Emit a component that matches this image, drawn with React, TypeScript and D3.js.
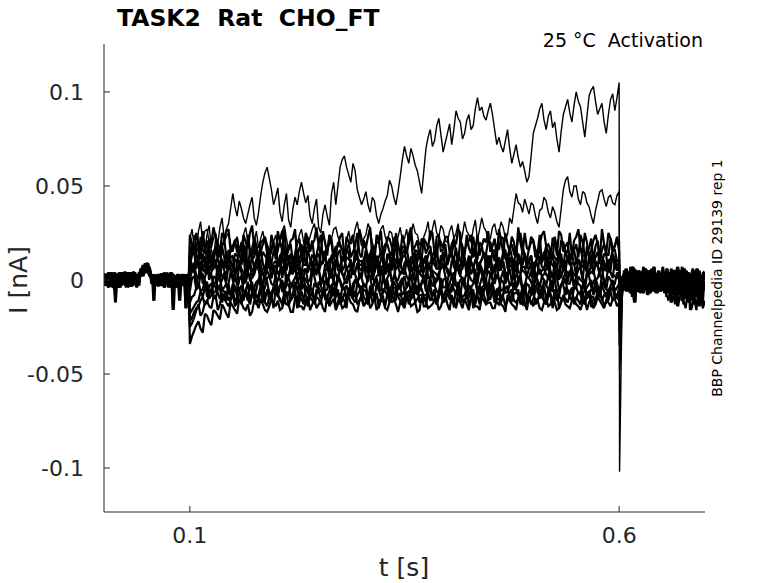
import * as d3 from 'd3';

// recordings in pA; each segment is stored as two interleaved sample sets
// (second set sits half a step after the first)
const PRE_DT = 0.0025; // 0 .. 0.1 s
const MAIN_T0 = 0.1; // voltage step, 0.1 .. 0.6 s
const TAIL_T = [0.6005, 0.602, 0.6035];
const POST_T0 = 0.605;
const POST_DT = 0.0025; // 0.605 .. 0.7 s

const pre1 = [2, -3, 1, 4, -1, -12, 2, -2, 3, 0, -4, 1, 3, -2, 2, -1, 4, 6, 3, 8, 5, 2, -1, 3, 0, -2, 2, -3, 1, 4, -1, 2, -3, 0, 3, -2, 1, -1, 2, -4];
const pre1b = [-2, 3, -1, 2, -4, 1, 3, -2, 0, 4, -1, 2, -3, 1, 3, -1, 2, 5, 7, 4, 6, 3, 1, -2, 2, 0, -3, 3, -1, 1, -2, 4, 0, -3, 2, -1, 3, 0, -2, 2];
const pre2 = [-1, 2, -4, 0, 3, -2, 1, 4, -3, 2, -1, 3, -2, 0, 4, 1, -3, 5, 7, 4, 9, 6, -2, -11, 2, -1, 3, 0, -3, 2, 1, -2, -16, 1, 3, -1, 2, -2, 0, 3];
const pre2b = [3, -1, 1, -3, 2, 4, -2, 0, 3, -1, 2, -4, 1, 3, -2, 0, 2, 4, 8, 6, 5, 7, 2, 0, -1, 3, -2, 1, 4, -1, 0, -3, 2, 1, -2, 3, -1, 2, -3, 0];
const pre3 = [3, -1, 0, -3, 2, 1, -4, 3, 0, -2, 4, -1, 1, -3, 2, 0, 3, 2, 6, 4, 5, 3, 1, -2, 2, -3, 1, 3, -1, 0, -2, 4, 1, -3, 2, 0, -1, 3, -15, 1];
const pre3b = [0, 2, -3, 1, 4, -1, 2, -2, 3, 0, -3, 2, 4, -1, 1, -2, 3, 6, 5, 9, 4, 2, 3, -1, 1, -2, 3, 0, -1, 2, -4, 1, 3, -2, 0, 2, -1, -3, 1, 2];
const pre4 = [-2, 1, 3, -2, 0, 2, -1, -3, 4, 1, -2, 2, 0, 3, -1, -4, 1, 4, 2, 5, 7, 3, 2, 0, -3, 1, -1, 2, 3, -2, 1, -3, 2, -1, 0, 2, -2, 1, 3, -12];
const pre4b = [1, -3, 2, 0, -2, 3, 1, -4, 2, 3, -1, 0, 2, -3, 1, 3, -1, 4, 5, 6, 8, 5, 0, 2, -1, -3, 2, 1, -2, 0, 3, -1, 1, -4, 2, 0, 3, -2, 1, -1];
const pre5 = [1, -2, 4, -1, 2, -3, 0, 3, -2, 1, 4, -1, -3, 2, 0, -2, 3, 5, 4, 7, 6, 4, 0, 2, -1, 3, -2, 1, -4, 0, 2, -1, 3, -3, 1, -2, 0, 2, -1, 1];
const pre5b = [-1, 1, 3, -2, 0, -4, 2, 1, -1, 3, 0, -2, 2, -1, 4, -3, 1, 3, 6, 4, 7, 5, 2, 1, -2, 0, 2, -3, 1, 3, -2, 0, -1, 2, -3, 1, -2, 3, 0, -3];
const pre6 = [-3, 0, 2, -1, -4, 1, 3, -2, 2, 0, -3, 2, -1, 4, 1, -2, 0, 3, 6, 5, 8, 4, 3, -1, 1, -2, 2, -1, 0, 3, -3, 1, -2, 2, -4, -11, 0, 2, -2, -1];
const pre6b = [2, -2, 0, 3, -1, 2, -3, 1, 3, -2, 1, 4, -3, 0, 2, -1, 1, 5, 4, 6, 9, 3, 1, -1, 2, -3, 0, 3, -2, 1, 2, -4, 0, 1, -1, 2, -3, 0, 2, -2];

// the two strongly activating sweeps, 2.5 ms grid
const mainTop = [
  22, 27, 18, 14, 26, 31, 20, 16, 24, 29, 17, 22, 25, 19, 28, 33, 22, 27, 30, 38,
  46, 39, 34, 42, 38, 33, 30, 35, 40, 44, 33, 29, 36, 45, 52, 57, 60, 54, 48, 40,
  44, 49, 36, 31, 40, 46, 32, 28, 38, 44, 40, 47, 52, 46, 41, 45, 34, 30, 38, 43,
  28, 25, 35, 40, 34, 29, 46, 52, 40, 50, 60, 64, 66, 60, 56, 52, 62, 58, 48, 44,
  40, 43, 47, 40, 36, 44, 42, 34, 30, 35, 38, 42, 45, 53, 50, 44, 40, 47, 55, 64,
  71, 66, 62, 70, 66, 61, 58, 52, 46, 58, 70, 76, 80, 71, 74, 82, 86, 77, 68, 73,
  78, 83, 72, 80, 90, 86, 84, 75, 78, 85, 88, 80, 82, 91, 97, 90, 92, 87, 85, 90,
  94, 88, 80, 72, 76, 71, 68, 74, 80, 70, 62, 67, 72, 65, 60, 63, 58, 52, 55, 66,
  78, 82, 86, 91, 94, 85, 80, 87, 90, 81, 84, 75, 68, 79, 88, 92, 96, 89, 84, 93,
  100, 95, 92, 84, 76, 87, 98, 101, 103, 95, 88, 91, 94, 84, 78, 88, 96, 99, 90, 97,
  105,
];
const mainSecond = [
  18, 13, 24, 19, 14, 20, 21, 26, 27, 20, 16, 11, 22, 17, 12, 18, 20, 23, 25, 19,
  15, 20, 23, 17, 18, 24, 28, 21, 13, 18, 21, 26, 17, 22, 26, 20, 19, 16, 14, 20,
  24, 17, 20, 26, 29, 22, 16, 21, 22, 25, 18, 24, 27, 20, 15, 19, 23, 27, 30, 24,
  19, 23, 25, 19, 17, 24, 22, 27, 28, 23, 20, 16, 14, 21, 26, 19, 21, 27, 31, 24,
  18, 22, 24, 30, 27, 20, 16, 22, 23, 27, 29, 23, 20, 26, 25, 19, 17, 23, 28, 21,
  22, 27, 19, 24, 30, 25, 24, 19, 18, 23, 26, 31, 21, 27, 32, 25, 23, 29, 27, 21,
  20, 26, 29, 22, 25, 30, 18, 24, 31, 26, 24, 20, 27, 32, 21, 27, 33, 28, 26, 21,
  22, 28, 30, 24, 25, 31, 28, 22, 24, 33, 30, 38, 46, 41, 40, 36, 43, 39, 35, 41,
  40, 34, 30, 37, 38, 44, 42, 36, 33, 39, 36, 31, 28, 38, 48, 53, 55, 47, 44, 50,
  50, 43, 40, 47, 46, 41, 39, 34, 30, 37, 42, 47, 48, 43, 39, 44, 45, 41, 40, 45,
  47,
];

// remaining sweeps, 5 ms grid + half-step set
const mainC1 = [
  24, 14, 20, 26, 12, 19, 23, 15, 21, 27, 16, 22, 13, 20, 25, 17, 11, 21, 18, 24,
  14, 20, 27, 16, 22, 12, 19, 25, 15, 21, 18, 26, 13, 20, 16, 23, 11, 19, 24, 14,
  22, 17, 28, 15, 20, 12, 23, 18, 25, 13, 19, 24, 16, 21, 11, 20, 26, 14, 22, 17,
  23, 13, 19, 25, 16, 21, 12, 24, 18, 20, 15, 22, 27, 14, 19, 23, 12, 20, 25, 16,
  21, 14, 24, 18, 11, 22, 26, 15, 20, 13, 23, 17, 25, 12, 21, 19, 27, 14, 22, 18,
  20,
];
const mainC1b = [
  19, 25, 11, 17, 22, 28, 13, 18, 26, 15, 21, 12, 24, 17, 29, 14, 20, 23, 11, 19,
  26, 16, 13, 21, 27, 17, 12, 22, 19, 28, 14, 20, 24, 11, 18, 25, 15, 21, 13, 27,
  18, 23, 12, 20, 26, 16, 22, 11, 19, 24, 14, 28, 18, 13, 22, 17, 25, 12, 20, 23,
  15, 21, 27, 11, 19, 24, 16, 13, 22, 26, 18, 12, 21, 25, 15, 20, 28, 14, 17, 23,
  12, 19, 26, 15, 22, 13, 24, 18, 11, 21, 27, 14, 20, 16, 24, 12, 19, 25, 15, 22,
];
const mainC2 = [
  8, 15, 11, 5, 14, 9, 17, 7, 12, 16, 6, 13, 10, 18, 8, 12, 5, 15, 11, 9,
  16, 7, 13, 10, 4, 14, 11, 17, 8, 12, 6, 15, 9, 13, 18, 7, 11, 14, 5, 12,
  10, 16, 8, 13, 6, 15, 11, 9, 17, 7, 13, 10, 5, 14, 12, 8, 16, 11, 6, 15,
  9, 13, 17, 7, 12, 10, 15, 5, 11, 14, 8, 16, 10, 13, 6, 12, 17, 9, 14, 11,
  5, 13, 10, 16, 8, 12, 15, 7, 11, 14, 9, 17, 6, 12, 10, 15, 8, 13, 11, 16,
  10,
];
const mainC2b = [
  13, 6, 17, 9, 4, 15, 11, 18, 6, 10, 14, 8, 16, 5, 12, 19, 9, 13, 7, 15,
  10, 17, 5, 14, 11, 8, 18, 6, 13, 9, 16, 11, 4, 14, 8, 12, 17, 7, 15, 10,
  6, 13, 18, 9, 11, 5, 14, 16, 8, 12, 17, 7, 11, 15, 4, 13, 9, 18, 10, 6,
  14, 11, 8, 16, 5, 12, 19, 9, 13, 7, 15, 10, 5, 14, 18, 8, 11, 16, 6, 13,
  9, 17, 12, 5, 14, 10, 7, 16, 13, 8, 15, 11, 18, 6, 12, 9, 14, 4, 16, 10,
];
const mainC3 = [
  10, 4, 8, 12, 3, 7, 11, 2, 9, 6, 13, 5, 8, 1, 10, 7, 12, 4, 9, 6,
  3, 11, 7, 13, 5, 8, 2, 10, 6, 12, 4, 9, 7, 1, 11, 6, 10, 3, 8, 13,
  5, 7, 12, 4, 9, 2, 8, 11, 6, 10, 3, 9, 13, 5, 7, 11, 1, 8, 6, 12,
  4, 10, 7, 2, 9, 13, 6, 8, 3, 11, 7, 5, 12, 9, 2, 8, 10, 4, 13, 6,
  9, 3, 7, 11, 5, 10, 1, 8, 12, 6, 4, 9, 7, 13, 3, 8, 10, 5, 11, 7,
  8,
];
const mainC3b = [
  5, 11, 2, 9, 13, 6, 1, 10, 7, 12, 3, 9, 14, 6, 4, 11, 8, 2, 13, 5,
  9, 1, 12, 6, 10, 3, 13, 7, 4, 11, 8, 13, 2, 9, 5, 12, 7, 1, 10, 6,
  11, 3, 8, 13, 5, 9, 2, 12, 7, 4, 10, 6, 14, 3, 9, 1, 11, 6, 13, 8,
  2, 12, 5, 10, 7, 3, 11, 9, 1, 13, 5, 10, 8, 2, 12, 6, 4, 11, 7, 9,
  3, 13, 6, 10, 1, 8, 12, 5, 9, 2, 11, 7, 4, 12, 8, 3, 10, 6, 13, 5,
];
const mainC4 = [
  0, 6, 2, -2, 7, 3, -1, 5, 1, 8, 2, -3, 4, 6, 0, 3, 7, -2, 5, 1,
  -1, 4, 8, 2, 5, -2, 3, 6, 0, 4, 7, 1, -3, 5, 3, 8, 0, 2, 6, -1,
  4, 2, 7, -2, 3, 5, 1, 8, -1, 4, 6, 0, 3, 7, 2, -3, 5, 1, 4, 8,
  -1, 3, 6, 2, 0, 5, 7, -2, 4, 1, 3, 8, 0, 5, 2, -1, 6, 3, 7, 1,
  -2, 4, 2, 6, 0, 5, 3, 8, -1, 4, 2, 6, -3, 3, 5, 1, 7, 0, 4, 2,
  3,
];
const mainC4b = [
  5, -2, 7, 1, 4, -3, 8, 2, -1, 6, 3, 9, -2, 5, 1, 7, -3, 4, 2, 8,
  0, 6, -2, 4, 9, 1, 5, -1, 7, 3, -3, 6, 2, 8, 0, 4, -2, 7, 3, 1,
  8, -1, 5, 2, 6, -3, 4, 9, 0, 5, 2, 7, -2, 4, 1, 8, 3, -1, 6, 2,
  5, -3, 7, 1, 4, 9, 0, 6, -2, 5, 3, 8, 1, -2, 6, 4, 0, 7, 2, 5,
  -1, 6, 3, 8, -2, 4, 1, 7, 5, -3, 6, 2, 4, 9, 0, 5, -2, 7, 3, 1,
];
const mainC5 = [
  -6, 2, -4, 3, -1, -5, 1, -3, 4, -2, 0, -6, 2, -1, 3, -4, 0, -7, 1, -2,
  3, -3, -5, 1, -1, 4, -4, 0, -6, 2, -2, 1, -5, 3, -3, 0, -1, 4, -6, -2,
  1, -4, 2, -1, -6, 3, 0, -3, 1, -5, 2, -2, -4, 4, -1, -6, 1, -3, 3, 0,
  -5, 2, -2, 0, -4, 3, -1, -6, 1, -3, 4, -2, 0, -5, 2, -1, -4, 3, -3, 1,
  -6, 0, 2, -3, -1, 4, -5, 1, -2, 3, -4, 0, -6, 2, -1, -3, 3, -5, 0, -2,
  1,
];
const mainC5b = [
  1, -5, 3, -2, -7, 2, -4, 0, -3, 4, -6, 1, -2, 3, -5, -1, 4, -4, 2, -3,
  -6, 0, 3, -3, 1, -5, 2, -2, 4, -4, 0, -6, 2, -1, 3, -4, 1, -7, 0, 3,
  -3, 2, -5, 1, 4, -2, -6, 2, -3, 0, -4, 3, -1, -6, 2, -3, 4, 0, -5, 1,
  -2, 4, -4, 1, -6, 0, 3, -3, 2, -5, 0, 3, -6, 1, -3, 4, -2, -5, 2, -1,
  3, -4, 0, 2, -6, 1, -3, 4, -2, -5, 2, -1, 3, -4, 1, -6, 0, 2, -3, 4,
];
const mainC6 = [
  -18, -14, -11, -9, -3, -8, -4, -10, -6, -2, -7, -9, -3, -6, -11, -4, -8, -1, -5, -10,
  -6, -3, -9, -7, -2, -11, -5, -8, -4, -10, -1, -6, -9, -3, -7, -12, -4, -8, -5, -2,
  -9, -6, -3, -10, -5, -7, -1, -8, -11, -4, -6, -9, -2, -7, -5, -11, -3, -8, -6, -10,
  -4, -2, -8, -6, -12, -3, -7, -5, -9, -1, -6, -10, -4, -7, -3, -9, -5, -11, -2, -6,
  -8, -4, -7, -10, -1, -6, -9, -3, -5, -11, -4, -7, -2, -8, -6, -10, -3, -9, -5, -7,
  -4,
];
const mainC6b = [
  -16, -12, -6, -4, -10, -2, -7, -5, -11, -8, -3, -5, -10, -1, -7, -9, -3, -11, -6, -4,
  -9, -1, -7, -4, -10, -6, -2, -12, -5, -8, -3, -10, -6, -1, -8, -4, -11, -6, -9, -3,
  -5, -12, -7, -2, -9, -4, -10, -6, -3, -8, -11, -5, -7, -2, -9, -4, -8, -12, -3, -6,
  -9, -5, -1, -10, -7, -4, -11, -3, -6, -8, -2, -7, -10, -5, -9, -1, -8, -6, -12, -4,
  -5, -10, -3, -7, -6, -11, -2, -8, -9, -4, -7, -3, -10, -5, -1, -8, -6, -11, -4, -9,
];
const mainC7 = [
  -25, -20, -13, -17, -11, -15, -8, -13, -10, -14, -7, -12, -9, -5, -13, -8, -11, -6, -14, -9,
  -4, -10, -12, -7, -9, -15, -6, -11, -8, -13, -10, -5, -12, -9, -14, -7, -11, -4, -10, -13,
  -8, -12, -6, -10, -15, -9, -7, -12, -5, -11, -9, -13, -6, -10, -8, -14, -11, -5, -9, -12,
  -7, -10, -13, -6, -11, -9, -15, -8, -4, -12, -10, -7, -13, -9, -11, -5, -12, -8, -14, -10,
  -6, -11, -9, -13, -7, -10, -15, -8, -12, -5, -9, -13, -11, -7, -14, -8, -10, -12, -6, -9,
  -11,
];
const mainC7b = [
  -23, -16, -19, -12, -14, -9, -16, -7, -12, -11, -14, -6, -11, -10, -8, -13, -5, -12, -9, -15,
  -8, -13, -7, -11, -5, -12, -10, -14, -6, -9, -13, -8, -11, -4, -12, -10, -15, -8, -6, -11,
  -13, -9, -12, -7, -10, -14, -5, -11, -9, -13, -6, -10, -12, -8, -14, -7, -9, -13, -5, -11,
  -10, -14, -7, -12, -9, -5, -11, -13, -8, -10, -6, -12, -9, -14, -7, -11, -10, -4, -12, -8,
  -13, -7, -11, -9, -15, -6, -12, -10, -8, -13, -11, -6, -9, -14, -10, -7, -13, -5, -11, -9,
];
const mainC8 = [
  -34, -27, -22, -28, -19, -24, -17, -21, -15, -20, -14, -18, -12, -16, -19, -11, -15, -13, -17, -10,
  -14, -16, -11, -13, -17, -9, -14, -12, -16, -10, -13, -15, -8, -12, -16, -11, -14, -9, -13, -17,
  -10, -12, -15, -9, -14, -11, -16, -8, -13, -12, -15, -10, -13, -17, -9, -12, -14, -11, -16, -10,
  -13, -8, -15, -12, -10, -16, -11, -14, -9, -13, -12, -15, -10, -14, -8, -13, -16, -11, -12, -9,
  -14, -11, -16, -10, -13, -12, -15, -9, -14, -11, -13, -16, -10, -12, -15, -9, -13, -11, -14, -10,
  -12,
];
const mainC8b = [
  -30, -24, -26, -18, -22, -16, -19, -13, -18, -12, -16, -10, -15, -13, -17, -12, -10, -16, -14, -12,
  -11, -15, -13, -17, -10, -14, -16, -9, -13, -15, -11, -17, -14, -10, -13, -15, -8, -12, -16, -11,
  -14, -9, -13, -16, -11, -15, -12, -10, -17, -13, -9, -14, -12, -16, -10, -15, -13, -11, -14, -8,
  -16, -12, -10, -15, -13, -9, -14, -16, -11, -12, -15, -10, -13, -17, -11, -14, -9, -13, -16, -12,
  -10, -15, -12, -14, -9, -16, -11, -13, -15, -10, -14, -12, -16, -9, -13, -11, -15, -12, -10, -14,
];
const mainC9 = [
  13, 19, 9, 16, 21, 11, 17, 14, 22, 10, 18, 15, 20, 8, 16, 23, 12, 19, 14, 17,
  11, 21, 15, 18, 9, 20, 13, 24, 16, 12, 19, 10, 17, 22, 14, 18, 11, 20, 15, 25,
  12, 18, 14, 9, 21, 16, 19, 13, 23, 11, 17, 20, 10, 15, 22, 14, 18, 12, 24, 16,
  9, 19, 15, 21, 13, 17, 23, 11, 18, 14, 20, 10, 16, 22, 12, 19, 15, 25, 13, 17,
  21, 14, 9, 18, 16, 23, 11, 20, 15, 12, 19, 24, 13, 17, 10, 21, 16, 14, 22, 18,
  15,
];
const mainC9b = [
  18, 11, 23, 14, 17, 9, 20, 25, 12, 16, 21, 13, 19, 24, 10, 18, 15, 22, 11, 20,
  16, 26, 12, 19, 14, 22, 9, 17, 21, 13, 24, 15, 19, 11, 20, 16, 23, 12, 18, 14,
  21, 10, 17, 24, 13, 19, 15, 22, 9, 18, 14, 25, 16, 12, 20, 17, 11, 23, 15, 19,
  13, 22, 10, 18, 24, 14, 16, 20, 12, 21, 15, 19, 23, 11, 17, 14, 22, 18, 10, 20,
  16, 24, 13, 19, 11, 17, 21, 14, 25, 16, 12, 20, 15, 22, 18, 10, 19, 13, 17, 23,
];
const mainC10 = [
  3, 9, 1, 6, 10, 4, 7, -1, 5, 8, 2, 11, 6, 0, 7, 4, 9, 3, 6, 1,
  8, 5, 10, 2, 4, 7, -1, 6, 9, 3, 5, 0, 8, 4, 11, 6, 2, 7, 3, 9,
  1, 6, 10, 4, 2, 8, 5, -1, 7, 3, 9, 6, 1, 5, 10, 3, 7, 4, 0, 8,
  6, 2, 9, 5, 11, 3, 7, 1, 6, 4, 8, 0, 5, 10, 3, 7, 2, 9, 4, 6,
  1, 8, 5, 3, 10, 6, 0, 7, 4, 9, 2, 6, 11, 3, 5, 8, 1, 7, 4, 10,
  5,
];
const mainC10b = [
  7, 2, 10, 4, 0, 8, 5, 11, 3, 6, -1, 9, 4, 7, 2, 10, 5, 1, 8, 6,
  3, 11, 0, 7, 5, 9, 2, 4, 10, 6, 1, 8, 5, -1, 9, 3, 7, 11, 4, 2,
  8, 5, 0, 10, 6, 3, 9, 1, 7, 4, 11, 2, 6, 8, 0, 9, 5, 3, 10, 7,
  4, -1, 8, 6, 2, 10, 5, 9, 3, 7, 1, 11, 6, 4, 8, 0, 9, 5, 2, 7,
  10, 3, 6, 1, 8, 4, 11, 5, 2, 9, 6, 0, 7, 4, 10, 2, 8, 5, 1, 6,
];
const mainC11 = [
  -12, -8, -1, -5, -9, -2, -6, 1, -4, -7, -2, -5, 2, -6, -3, -8, 0, -4, -1, -7,
  -3, 1, -6, -2, -8, -4, 0, -5, -9, -2, -4, -7, 1, -3, -6, -1, -5, -8, -2, 0,
  -6, -3, -9, -1, -4, 2, -5, -7, -3, -1, -6, 0, -4, -8, -2, -5, 1, -3, -7, -4,
  -1, -6, -3, -9, 0, -5, -2, -7, -4, 1, -3, -8, -5, -1, -6, -2, -4, 0, -7, -3,
  -5, -1, -8, -3, -6, 1, -4, -2, -7, -5, 0, -3, -6, -2, -8, -4, -1, -5, -3, -6,
  -2,
];
const mainC11b = [
  -9, -4, -6, 0, -3, -7, 1, -5, -2, -8, -4, 0, -6, -9, -1, -5, -3, 2, -7, -4,
  0, -6, -3, -8, -1, -5, 2, -4, -7, -2, -6, -1, -4, -8, 1, -5, -3, -7, 0, -4,
  -2, -8, -5, 0, -6, -3, -9, -1, -5, 1, -4, -7, -2, -5, 0, -8, -3, -6, 1, -4,
  -7, -2, -5, 0, -8, -4, -1, -6, -3, -9, -1, -5, 0, -7, -3, -5, 1, -6, -2, -8,
  -4, -7, 0, -5, -2, -8, -3, 1, -6, -4, -2, -7, -4, 0, -5, -9, -3, -6, 0, -4,
];
const mainC12 = [
  -22, -17, -14, -9, -12, -6, -10, -4, -8, -11, -5, -9, -13, -7, -3, -10, -8, -12, -6, -9,
  -4, -11, -7, -14, -8, -5, -10, -3, -9, -12, -6, -8, -11, -4, -9, -13, -7, -5, -10, -8,
  -3, -11, -6, -9, -12, -5, -8, -10, -4, -7, -13, -6, -9, -3, -11, -8, -5, -10, -7, -12,
  -4, -9, -6, -11, -8, -14, -5, -7, -10, -3, -9, -12, -6, -8, -4, -11, -7, -13, -5, -9,
  -10, -6, -3, -12, -8, -5, -9, -11, -7, -4, -10, -8, -13, -6, -9, -4, -11, -7, -5, -10,
  -8,
];
const mainC12b = [
  -20, -15, -11, -13, -7, -9, -5, -12, -6, -9, -12, -4, -8, -11, -6, -13, -5, -9, -10, -4,
  -8, -12, -6, -10, -3, -9, -13, -7, -11, -5, -10, -7, -13, -8, -5, -11, -9, -4, -12, -6,
  -9, -13, -5, -8, -10, -6, -12, -4, -9, -11, -7, -10, -4, -12, -8, -6, -11, -13, -5, -9,
  -8, -12, -6, -9, -4, -10, -13, -7, -5, -11, -6, -9, -12, -4, -10, -7, -5, -11, -8, -13,
  -6, -9, -11, -5, -12, -7, -10, -4, -8, -12, -6, -11, -7, -9, -13, -5, -8, -10, -4, -9,
];
const mainC13 = [
  12, 6, 10, 14, 5, 11, 8, 15, 7, 12, 4, 10, 13, 8, 16, 6, 11, 9, 14, 5,
  10, 13, 7, 12, 3, 9, 15, 8, 11, 6, 14, 10, 5, 12, 9, 16, 7, 11, 4, 13,
  8, 15, 10, 6, 12, 9, 14, 5, 11, 8, 16, 7, 12, 10, 4, 13, 9, 15, 6, 11,
  8, 14, 5, 10, 12, 7, 16, 9, 11, 6, 13, 4, 10, 15, 8, 12, 6, 11, 14, 9,
  5, 13, 10, 7, 16, 8, 12, 4, 11, 14, 9, 6, 13, 10, 15, 7, 12, 8, 5, 11,
  9,
];
const mainC13b = [
  8, 14, 5, 11, 16, 7, 12, 9, 15, 4, 11, 8, 15, 6, 12, 10, 16, 4, 13, 9,
  7, 14, 10, 5, 13, 11, 8, 16, 6, 12, 9, 15, 11, 7, 14, 5, 12, 10, 16, 8,
  11, 6, 13, 9, 15, 4, 12, 10, 7, 14, 9, 12, 5, 15, 11, 8, 13, 6, 10, 16,
  12, 7, 14, 9, 5, 11, 13, 8, 15, 10, 6, 12, 9, 16, 11, 5, 14, 8, 10, 13,
  7, 11, 15, 9, 12, 6, 14, 10, 8, 16, 11, 13, 7, 12, 9, 15, 5, 11, 14, 8,
];

// tail currents right after the step back
const tailTop = [-102, -55, -12];
const tailSecond = [-48, -38, -10];
const tailC1 = [-35, -20, -6];
const tailC2 = [-22, -12, -3];
const tailC3 = [-15, -6, 0];
const tailC4 = [-12, -5, 2];
const tailC5 = [-10, -4, -2];
const tailC6 = [-8, -5, -3];
const tailC7 = [-6, -4, -2];
const tailC8 = [-5, -2, 0];
const tailC9 = [-28, -16, -5];
const tailC10 = [-9, -3, 1];
const tailC11 = [-7, -4, -1];
const tailC12 = [-5, -3, -2];
const tailC13 = [-18, -9, -2];

const post1 = [5, 1, 4, 7, 2, 6, 0, 4, 3, 7, 1, 5, 2, 6, 4, 0, 5, 3, 7, 2, 4, 1, 6, 3, 5, 0, 4, 7, 2, 5, 3, 1, 6, 4, 2, 5, 0, 4, 3];
const post1b = [2, 6, 0, 4, 7, 1, 3, 5, 0, 4, 6, 2, 5, 1, 7, 3, 4, 0, 5, 2, 6, 3, 1, 5, 2, 7, 0, 3, 6, 1, 4, 2, 5, 0, 6, 3, 1, 4];
const post2 = [-2, 2, -3, 1, -1, 3, -2, 0, 2, -4, 1, -1, 3, -3, 0, 2, -2, 1, -4, 2, 0, -3, 3, -1, 1, -2, 2, -4, 0, 1, -3, 2, -1, 0, 3, -2, 1, -3, 0];
const post2b = [1, -3, 0, 2, -2, 1, -4, 2, -1, 0, 3, -2, 1, -4, 2, 0, -1, 3, -2, 0, 2, -3, 1, -1, 3, -2, 0, -3, 2, -1, 1, -4, 0, 2, -2, 1, -1, 2];
const post3 = [-5, -1, -4, -7, -2, -12, -3, -6, -1, -5, -3, -8, -2, -4, -6, -1, -5, -3, -2, -7, -4, -1, -6, -3, -5, -2, -8, -4, -1, -5, -3, -6, -2, -4, -7, -3, -1, -5, -4];
const post3b = [-2, -6, -3, -1, -8, -4, -6, -2, -5, -7, -1, -4, -6, -3, -2, -7, -4, -5, -1, -3, -6, -2, -5, -8, -3, -4, -1, -6, -3, -5, -2, -7, -4, -1, -5, -3, -6, -2];
const post4 = [-4, -1, -6, -3, -9, -2, -5, -3, -7, -4, -1, -5, -3, -6, -2, -4, -7, -3, -5, -2, -8, -11, -6, -9, -13, -7, -10, -5, -12, -15, -9, -11, -14, -8, -16, -12, -10, -15, -11];
const post4b = [-2, -5, -4, -1, -6, -4, -2, -6, -3, -5, -2, -4, -7, -3, -5, -1, -4, -6, -2, -5, -9, -7, -12, -8, -10, -14, -8, -11, -13, -10, -12, -16, -11, -13, -9, -14, -12, -13];
const post5 = [3, -1, 2, 5, 0, 4, -2, 2, 1, 5, -1, 3, 0, 4, 2, -2, 3, 1, 5, 0, 2, -1, 4, 1, 3, -2, 2, 5, 0, 3, 1, -1, 4, 2, 0, 3, -2, 2, 1];
const post5b = [0, 4, 1, -1, 3, 2, 5, -1, 3, 0, 4, 1, 2, -1, 5, 0, 3, 2, -1, 4, 1, 3, 0, 5, -1, 2, 4, 1, -2, 3, 0, 2, 5, 1, -1, 4, 2, 0];
const post6 = [-4, 0, -3, 1, -5, -1, -3, 2, -2, -4, 0, -6, -1, -3, 1, -4, -2, 0, -5, -1, -3, 1, -2, -4, 0, -3, -1, -6, -2, 0, -4, -1, -3, 1, -2, -5, -1, -3, -2];
const post6b = [-1, -4, -2, -5, 0, -3, -1, -4, -6, -2, -3, 0, -4, -2, -5, -1, -3, -6, -2, 0, -4, -1, -3, -5, -2, -4, 0, -3, -5, -1, -2, -4, -6, -1, -3, 0, -4, -2];

type Sweep = { pre: number[][]; main: number[][]; dt: number; tail: number[]; post: number[][] };

const sweeps: Sweep[] = [
  { pre: [pre1, pre1b], main: [mainTop], dt: 0.0025, tail: tailTop, post: [post1, post1b] },
  { pre: [pre2, pre2b], main: [mainSecond], dt: 0.0025, tail: tailSecond, post: [post2, post2b] },
  { pre: [pre3, pre3b], main: [mainC1, mainC1b], dt: 0.005, tail: tailC1, post: [post3, post3b] },
  { pre: [pre4, pre4b], main: [mainC2, mainC2b], dt: 0.005, tail: tailC2, post: [post4, post4b] },
  { pre: [pre5, pre5b], main: [mainC3, mainC3b], dt: 0.005, tail: tailC3, post: [post5, post5b] },
  { pre: [pre6, pre6b], main: [mainC4, mainC4b], dt: 0.005, tail: tailC4, post: [post6, post6b] },
  { pre: [pre1b, pre2], main: [mainC5, mainC5b], dt: 0.005, tail: tailC5, post: [post2b, post1] },
  { pre: [pre2b, pre3], main: [mainC6, mainC6b], dt: 0.005, tail: tailC6, post: [post3b, post2] },
  { pre: [pre3b, pre4], main: [mainC7, mainC7b], dt: 0.005, tail: tailC7, post: [post6b, post3] },
  { pre: [pre4b, pre5], main: [mainC8, mainC8b], dt: 0.005, tail: tailC8, post: [post5b, post6] },
  { pre: [pre5b, pre6], main: [mainC9, mainC9b], dt: 0.005, tail: tailC9, post: [post1b, post5] },
  { pre: [pre6b, pre1], main: [mainC10, mainC10b], dt: 0.005, tail: tailC10, post: [post4b, post2] },
  { pre: [pre2, pre4b], main: [mainC11, mainC11b], dt: 0.005, tail: tailC11, post: [post2b, post3] },
  { pre: [pre3, pre6b], main: [mainC12, mainC12b], dt: 0.005, tail: tailC12, post: [post6, post3b] },
  { pre: [pre5, pre1b], main: [mainC13, mainC13b], dt: 0.005, tail: tailC13, post: [post5, post1b] },
];

const xTicks = [0.1, 0.6];
const yTicks = [0.1, 0.05, 0, -0.05, -0.1];

const W = 778;
const H = 583;
const plot = { left: 104, right: 705, top: 44, bottom: 512 };

// first set on t0 + i*dt, second set half a step later
function segment(sets: number[][], t0: number, dt: number): [number, number][] {
  const pts: [number, number][] = [];
  sets.forEach((vals, k) => vals.forEach((v, i) => pts.push([t0 + i * dt + (k * dt) / 2, v / 1000])));
  return pts.sort((a, b) => a[0] - b[0]);
}

function toPoints(s: Sweep): [number, number][] {
  return [
    ...segment(s.pre, 0, PRE_DT),
    ...segment(s.main, MAIN_T0, s.dt),
    ...s.tail.map((v, i) => [TAIL_T[i], v / 1000] as [number, number]),
    ...segment(s.post, POST_T0, POST_DT),
  ];
}

export default function App() {
  const x = d3.scaleLinear().domain([0, 0.7]).range([plot.left, plot.right]);
  const y = d3.scaleLinear().domain([-0.1234, 0.1255]).range([plot.bottom, plot.top]);
  const line = d3
    .line<[number, number]>()
    .x((d) => x(d[0]))
    .y((d) => y(d[1]));

  const font = '"DejaVu Sans", sans-serif';
  const axisColor = '#262626';
  const keepSpaces = { whiteSpace: 'pre' as const };

  return (
    <svg width={W} height={H} style={{ position: 'absolute', left: 0, top: 0, background: '#fff' }} fontFamily={font}>
      <defs>
        <clipPath id="plotClip">
          <rect x={plot.left} y={plot.top} width={plot.right - plot.left} height={plot.bottom - plot.top} />
        </clipPath>
      </defs>

      <g clipPath="url(#plotClip)">
        {sweeps.map((s, i) => (
          <path
            key={i}
            d={line(toPoints(s)) ?? ''}
            fill="none"
            stroke="#000"
            strokeWidth={i < 2 ? 1.4 : 2.2}
            strokeLinejoin="miter"
            strokeMiterlimit={2}
          />
        ))}
      </g>

      {/* axes */}
      <line x1={plot.left} x2={plot.left} y1={plot.top} y2={plot.bottom} stroke={axisColor} strokeWidth={1} />
      <line x1={plot.left} x2={plot.right} y1={plot.bottom} y2={plot.bottom} stroke={axisColor} strokeWidth={1} />

      {yTicks.map((t) => (
        <g key={t}>
          <line x1={plot.left} x2={plot.left + 6} y1={y(t)} y2={y(t)} stroke={axisColor} />
          <text x={84} y={y(t)} dy="0.35em" textAnchor="end" fontSize={22} fill={axisColor}>
            {String(t)}
          </text>
        </g>
      ))}
      {xTicks.map((t) => (
        <g key={t}>
          <line x1={x(t)} x2={x(t)} y1={plot.bottom} y2={plot.bottom - 6} stroke={axisColor} />
          <text x={x(t)} y={543} textAnchor="middle" fontSize={22} fill={axisColor}>
            {String(t)}
          </text>
        </g>
      ))}

      <text x={404} y={576} textAnchor="middle" fontSize={25} fill={axisColor}>
        t [s]
      </text>
      <text transform="translate(27,280) rotate(-90)" textAnchor="middle" fontSize={25} fill={axisColor}>
        I [nA]
      </text>

      <text x={117} y={26} fontSize={23.5} fontWeight="bold" fill="#000" style={keepSpaces}>
        {'TASK2  Rat  CHO_FT'}
      </text>
      <text x={703} y={47} textAnchor="end" fontSize={19} fill="#000" style={keepSpaces}>
        {'25 °C  Activation'}
      </text>
      <text transform="translate(722,278) rotate(-90)" textAnchor="middle" fontSize={14} fill="#000">
        BBP Channelpedia ID 29139 rep 1
      </text>
    </svg>
  );
}
